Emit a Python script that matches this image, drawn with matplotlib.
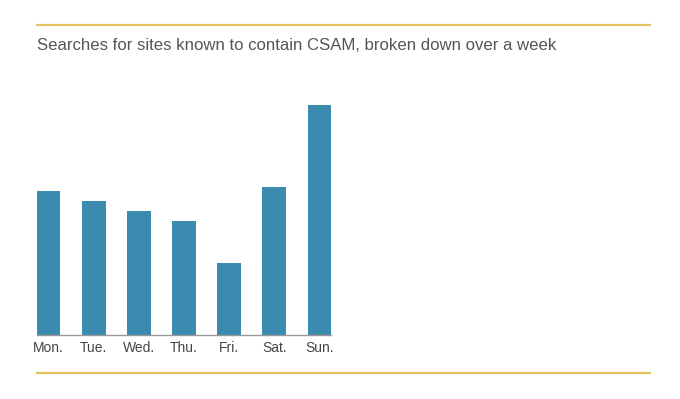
import matplotlib
matplotlib.use("Agg")
import matplotlib.pyplot as plt
from matplotlib.lines import Line2D

days = ["Mon.", "Tue.", "Wed.", "Thu.", "Fri.", "Sat.", "Sun."]
searches = [144, 134, 124, 114, 72, 148, 230]

plt.rcParams['font.family'] = ['Liberation Sans', 'DejaVu Sans']

fig = plt.figure(figsize=(6.8, 3.99), dpi=100)
W, H = 680, 399

# axes placed in pixel terms
left, right, bottom, top = 37, 331, 335, 105
ax = fig.add_axes([left / W, 1 - bottom / H, (right - left) / W, (bottom - top) / H])

x = range(len(days))
ax.bar(x, searches, width=0.52, color="#3b8bb0")
ax.set_xlim(-0.26, len(days) - 1 + 0.26)
ax.set_ylim(0, max(searches))
ax.set_xticks(list(x))
ax.set_xticklabels(days, fontsize=10, color="#444444")
ax.tick_params(axis="x", length=0, pad=4)
ax.set_yticks([])
for s in ["top", "right", "left"]:
    ax.spines[s].set_visible(False)
ax.spines["bottom"].set_color("#999999")
ax.spines["bottom"].set_linewidth(1)

# gold rules top and bottom
for yy in [25, 373]:
    fig.add_artist(Line2D([37 / W, 650 / W], [1 - yy / H, 1 - yy / H],
                          color="#e6c262", linewidth=1.6))

fig.text(37 / W, 1 - 45 / H, "Searches for sites known to contain CSAM, broken down over a week",
         fontsize=12.1, color="#555555", va="center", ha="left")

fig.savefig("out.png", dpi=100)
